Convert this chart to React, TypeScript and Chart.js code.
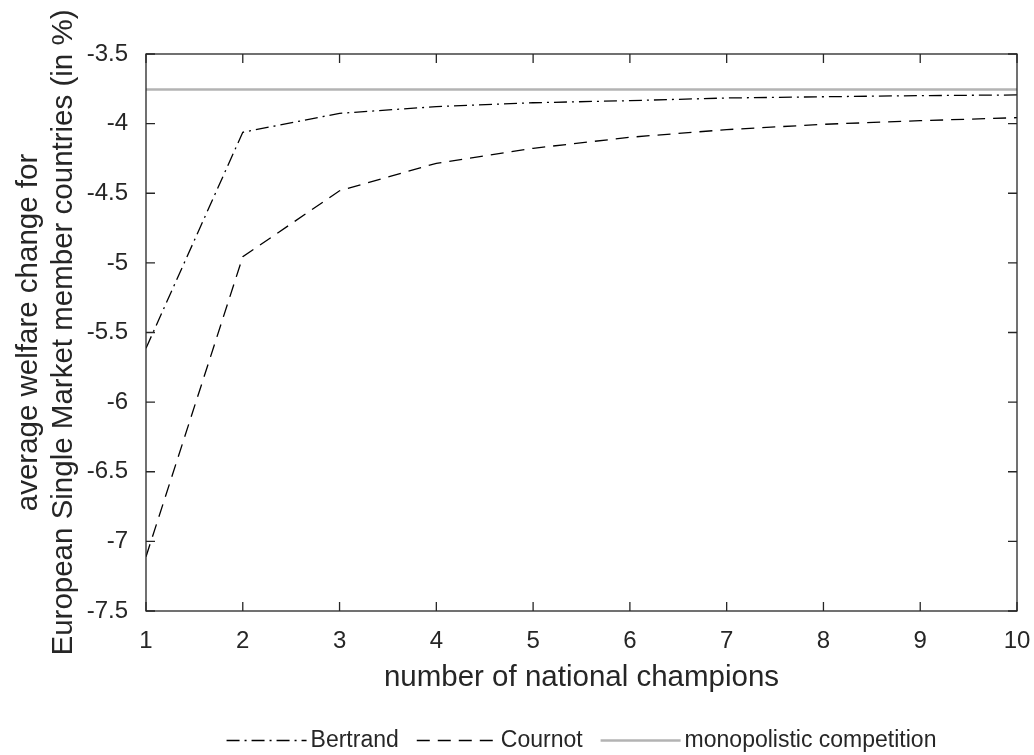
import React, { useEffect, useRef } from "react";
import { Chart, registerables } from "chart.js";

Chart.register(...registerables);

// ---- data ----
const champions = [1, 2, 3, 4, 5, 6, 7, 8, 9, 10];
const bertrand = [-5.613, -4.062, -3.926, -3.878, -3.85, -3.835, -3.816, -3.807, -3.799, -3.794];
const cournot = [-7.11, -4.956, -4.482, -4.285, -4.177, -4.098, -4.043, -4.005, -3.979, -3.957];
const monopolistic = [-3.755, -3.755, -3.755, -3.755, -3.755, -3.755, -3.755, -3.755, -3.755, -3.755];
const seriesNames = ["Bertrand", "Cournot", "monopolistic competition"];
const xMin = 1;
const xMax = 10;
const yMin = -7.5;
const yMax = -3.5;
const yStep = 0.5;
const xTitle = "number of national champions";
const yTitle = ["average welfare change for", "European Single Market member countries (in %)"];

const FONT = "'Liberation Sans', Arial, Helvetica, sans-serif";
const TEXT = "#262626";
const LEGEND_FONT = 23;
const LEGEND_BOX = 72.5;
const SAMPLE_W = 80;

const toPoints = (ys: number[]) => champions.map((x, i) => ({ x, y: ys[i] }));

const boxPlugin = {
  id: "matlabBox",
  afterDatasetsDraw(chart: any) {
    const { ctx, chartArea } = chart;
    const { left, right, top, bottom } = chartArea;
    const xs = chart.scales.x;
    const ys = chart.scales.y;
    const L = 9;
    ctx.save();
    ctx.strokeStyle = TEXT;
    ctx.lineWidth = 1.3;
    ctx.setLineDash([]);
    ctx.strokeRect(left, top, right - left, bottom - top);
    ctx.beginPath();
    xs.ticks.forEach((t: any) => {
      const px = xs.getPixelForValue(t.value);
      ctx.moveTo(px, bottom);
      ctx.lineTo(px, bottom - L);
      ctx.moveTo(px, top);
      ctx.lineTo(px, top + L);
    });
    ys.ticks.forEach((t: any) => {
      const py = ys.getPixelForValue(t.value);
      ctx.moveTo(left, py);
      ctx.lineTo(left + L, py);
      ctx.moveTo(right, py);
      ctx.lineTo(right - L, py);
    });
    ctx.stroke();
    ctx.restore();
  },
};

// draws the line samples of the legend (with the dataset's dash pattern)
const legendSamplePlugin = {
  id: "legendSamples",
  afterDraw(chart: any) {
    const legend = chart.legend;
    if (!legend || !legend.legendHitBoxes) return;
    const { ctx } = chart;
    legend.legendItems.forEach((item: any, i: number) => {
      const hb = legend.legendHitBoxes[i];
      const ds = chart.data.datasets[item.datasetIndex];
      const y = hb.top + LEGEND_FONT / 2;
      ctx.save();
      ctx.strokeStyle = ds.borderColor;
      ctx.lineWidth = ds.borderWidth;
      ctx.setLineDash(ds.borderDash || []);
      ctx.beginPath();
      ctx.moveTo(hb.left, y);
      ctx.lineTo(hb.left + SAMPLE_W, y);
      ctx.stroke();
      ctx.restore();
    });
  },
};

export default function App() {
  const ref = useRef<HTMLCanvasElement | null>(null);

  useEffect(() => {
    if (!ref.current) return;
    const chart = new Chart(ref.current, {
      type: "line",
      data: {
        datasets: [
          {
            label: seriesNames[0],
            data: toPoints(bertrand),
            borderColor: "#000000",
            backgroundColor: "#000000",
            borderWidth: 1.3,
            borderDash: [13, 5, 2, 5],
            pointRadius: 0,
            tension: 0,
          },
          {
            label: seriesNames[1],
            data: toPoints(cournot),
            borderColor: "#000000",
            backgroundColor: "#000000",
            borderWidth: 1.3,
            borderDash: [13, 8],
            pointRadius: 0,
            tension: 0,
          },
          {
            label: seriesNames[2],
            data: toPoints(monopolistic),
            borderColor: "#b3b3b3",
            backgroundColor: "#b3b3b3",
            borderWidth: 2.6,
            pointRadius: 0,
            tension: 0,
          },
        ],
      },
      plugins: [boxPlugin, legendSamplePlugin],
      options: {
        animation: false,
        responsive: false,
        devicePixelRatio: 1,
        layout: { padding: { top: 54, right: 17, left: 0, bottom: 0 } },
        plugins: {
          tooltip: { enabled: false },
          legend: {
            position: "bottom",
            fullSize: false,
            labels: {
              boxWidth: LEGEND_BOX,
              padding: 18,
              color: TEXT,
              font: { family: FONT, size: LEGEND_FONT },
              generateLabels: (chart: any) =>
                chart.data.datasets.map((ds: any, i: number) => ({
                  text: ds.label,
                  datasetIndex: i,
                  fillStyle: "rgba(0,0,0,0)",
                  strokeStyle: "rgba(0,0,0,0)",
                  lineWidth: 0,
                  hidden: false,
                  fontColor: TEXT,
                })),
            },
          },
        },
        scales: {
          x: {
            type: "linear",
            min: xMin,
            max: xMax,
            grid: { display: false, drawTicks: false },
            border: { display: false },
            ticks: {
              stepSize: 1,
              padding: 16,
              color: TEXT,
              font: { family: FONT, size: 24 },
              callback: (v: any) => String(v),
            },
            title: {
              display: true,
              text: xTitle,
              color: TEXT,
              font: { family: FONT, size: 29.5, lineHeight: 1.2 },
              padding: { top: 0, bottom: 15.5 },
            },
            afterFit: (s: any) => {
              s.height = 100;
              s.paddingLeft = 0;
              s.paddingRight = 0;
            },
          },
          y: {
            type: "linear",
            min: yMin,
            max: yMax,
            grid: { display: false, drawTicks: false },
            border: { display: false },
            ticks: {
              stepSize: yStep,
              padding: 18,
              color: TEXT,
              font: { family: FONT, size: 24 },
              callback: (v: any) => String(v),
            },
            title: {
              display: true,
              text: yTitle,
              color: TEXT,
              font: { family: FONT, size: 29.5, lineHeight: 1.2 },
              padding: { top: 11.2, bottom: 0 },
            },
            afterFit: (s: any) => {
              s.width = 146;
            },
          },
        },
      },
    });
    return () => chart.destroy();
  }, []);

  return (
    <div
      style={{
        position: "fixed",
        left: 0,
        top: 0,
        width: 1034,
        height: 755,
        overflow: "hidden",
        background: "#ffffff",
      }}
    >
      <canvas ref={ref} width={1034} height={762} style={{ display: "block", width: 1034, height: 762 }} />
    </div>
  );
}
